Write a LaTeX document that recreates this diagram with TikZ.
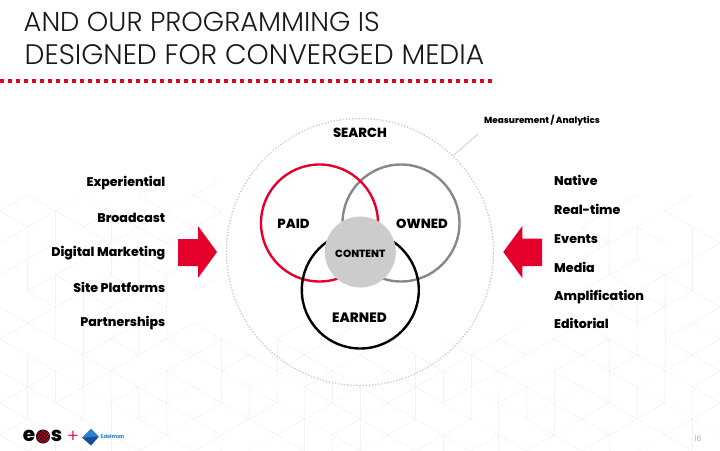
\documentclass[tikz,border=0pt]{standalone}
\usepackage{fontspec}
\setmainfont{Poppins}
\newfontfamily\hvfont{Poppins ExtraBold}
\newfontfamily\ltfont{Poppins Light}
\definecolor{edred}{HTML}{E4002B}
\definecolor{edgray}{HTML}{888888}
\definecolor{contentgray}{HTML}{CDCBCB}
\definecolor{dotgray}{HTML}{CFCFCF}
\definecolor{leader}{HTML}{D5D8E0}
\definecolor{lattice}{HTML}{F3F3F3}
\definecolor{edblue}{HTML}{2A7FD0}
\definecolor{eddark}{HTML}{12509E}
\tikzset{
  venn/.style={circle,draw,line width=2.4pt,inner sep=0pt,minimum size=#1},
  itemtext/.style={font=\hvfont\fontsize{12.6}{14}\selectfont,text=black,inner sep=0pt},
  vennlabel/.style={font=\hvfont\fontsize{13.2}{15}\selectfont,text=black,inner sep=0pt,anchor=base},
  titletext/.style={text=black!90,inner sep=0pt,anchor=base west},
  latline/.style={draw=lattice,line width=0.6pt},
  latdash/.style={draw=lattice,line width=0.7pt,dash pattern=on 1.5pt off 1.5pt}
}
\begin{document}
\begin{tikzpicture}[x=1pt,y=-1pt]
\useasboundingbox (0,0) rectangle (720,450);
\fill[white] (0,0) rectangle (720,450);
% background lattice
\foreach \k in {0,...,26}{
  \foreach \n in {0,...,10}{
    \pgfmathsetmacro{\xa}{27.7*\k}
    \pgfmathsetmacro{\ya}{147+32*\n+16*mod(\k,2)}
    \pgfmathtruncatemacro{\keep}{((\xa<200 && \ya>190) || (\ya>325) || (\xa>570 && \ya>195)) ? 1 : 0}
    \ifnum\keep=1
    \pgfmathtruncatemacro{\ha}{mod(3*\k*\k+7*\n*\n+5*\k*\n+11,7)}
    \pgfmathtruncatemacro{\hb}{mod(2*\k*\k+5*\n*\n+3*\k*\n+4*\k+2,7)}
    \pgfmathtruncatemacro{\hc}{mod(5*\k*\k+3*\n*\n+\k*\n+6*\n+5,7)}
    \ifnum\ha<3 \path[latline] (\xa,\ya) -- ++(0,32);\else\ifnum\ha=3 \path[latdash] (\xa,\ya) -- ++(0,32);\fi\fi
    \ifnum\hb<4 \path[latline] (\xa,\ya) -- ++(27.7,16);\else\ifnum\hb=4 \path[latdash] (\xa,\ya) -- ++(27.7,16);\fi\fi
    \ifnum\hc<4 \path[latline] (\xa,\ya) -- ++(27.7,-16);\else\ifnum\hc=4 \path[latdash] (\xa,\ya) -- ++(27.7,-16);\fi\fi
    \fi
  }
}
% title
\node[titletext,font=\ltfont\fontsize{27.3}{32}\selectfont] (t1) at (23.5,31.5) {AND OUR PROGRAMMING IS};
\node[titletext,font=\ltfont\fontsize{28.2}{32}\selectfont] (t2) at (24.5,64) {DESIGNED FOR CONVERGED MEDIA};
\foreach \i in {0,...,61}{\fill[edred] ({8*\i},79) rectangle ({8*\i+4.4},83);}
% circles
\node[circle,inner sep=0pt,minimum size=267pt,draw=dotgray,line width=1.9pt,line cap=round,dash pattern=on 0pt off 3.1pt] (outer) at (360,252) {};
\coordinate (mend) at (478,134);
\draw[leader,line width=1.1pt] (outer.46) -- (mend);
\node[venn=117pt,draw=edgray] (owned) at (401,223) {};
\node[venn=117pt,draw=edred] (paid) at (319.5,223) {};
\node[venn=117pt,draw=black] (earned) at (360.3,290) {};
\node[circle,fill=contentgray,inner sep=0pt,minimum size=71pt] (content) at (360.3,252) {};
\node[vennlabel] (search) at (360,137.7) {SEARCH};
\node[vennlabel] (lpaid) at (293.5,228.3) {PAID};
\node[vennlabel] (lowned) at (422,228.3) {OWNED};
\node[vennlabel,font=\hvfont\fontsize{10.4}{12}\selectfont] (lcontent) at (360.3,257.5) {CONTENT};
\node[vennlabel,font=\hvfont\fontsize{13.6}{15}\selectfont] (learned) at (359.5,322.3) {EARNED};
\node[inner sep=0pt,anchor=base west,font=\hvfont\fontsize{8.85}{10}\selectfont] (meas) at (484,123) {Measurement\,/\,Analytics};
% arrows
\fill[edred] (178,239) -- (198,239) -- (198,226) -- (217,252) -- (198,278) -- (198,266) -- (178,266) -- cycle;
\fill[edred] (542,238.5) -- (522.3,238.5) -- (522.3,226) -- (503.3,252) -- (522.3,278) -- (522.3,266) -- (542,266) -- cycle;
% left list
\node[itemtext,anchor=base east] (l1) at (165.5,186.7) {Experiential};
\node[itemtext,anchor=base east] (l2) at (165.5,222) {Broadcast};
\node[itemtext,anchor=base east] (l3) at (165.5,256.7) {Digital Marketing};
\node[itemtext,anchor=base east] (l4) at (165.5,292) {Site Platforms};
\node[itemtext,anchor=base east] (l5) at (165.5,326.7) {Partnerships};
% right list
\node[itemtext,anchor=base west] (r1) at (554,185) {Native};
\node[itemtext,anchor=base west] (r2) at (554,214.3) {Real-time};
\node[itemtext,anchor=base west] (r3) at (554,243) {Events};
\node[itemtext,anchor=base west] (r4) at (554,272) {Media};
\node[itemtext,anchor=base west] (r5) at (554,300.7) {Amplification};
\node[itemtext,anchor=base west] (r6) at (554,328.7) {Editorial};
% page number
\node[inner sep=0pt,text=black!40,font=\ltfont\fontsize{7.5}{9}\selectfont] (page) at (698,438.5) {16};
% logos
\node[inner sep=0pt,font=\hvfont\fontsize{20}{20}\selectfont,anchor=center] (eose) at (29,435.5) {e};
\fill[black] (43,436.5) circle (7);
\begin{scope}
\clip (43,436.5) circle (6.5);
\foreach \d in {-8,-5,-2,1,4,7}{\draw[edred,line width=1pt] ({43+\d-6},444) -- ({43+\d+6},429);}
\end{scope}
\node[inner sep=0pt,font=\hvfont\fontsize{20}{20}\selectfont,anchor=center] (eoss) at (56.5,435.5) {s};
\node[inner sep=0pt,text=edred,font=\ltfont\fontsize{18}{18}\selectfont] (plus) at (73,437) {+};
\fill[edblue] (91,428.5) -- (99,436.5) -- (91,437.5) -- (82,437.5) -- cycle;
\fill[eddark] (82,437.5) -- (99,436.5) -- (91,445.5) -- cycle;
\node[inner sep=0pt,anchor=west,text=edblue,font=\fontsize{5.2}{6}\bfseries\selectfont] (edel) at (100.5,437) {Edelman};
\end{tikzpicture}
\end{document}
